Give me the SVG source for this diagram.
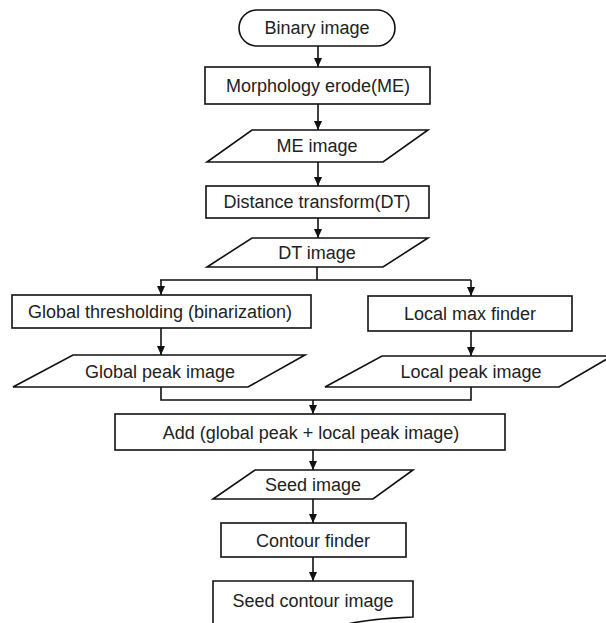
<svg xmlns="http://www.w3.org/2000/svg" width="606" height="623" viewBox="0 0 606 623">
<defs>
<marker id="ah" markerWidth="9" markerHeight="8" refX="9" refY="4" orient="auto" markerUnits="userSpaceOnUse" viewBox="0 0 9 8">
<path d="M0,0 L9,4 L0,8 Z" fill="#111"/>
</marker>
<style>
.s{fill:#fff;stroke:#111;stroke-width:1.6}
.t{font-family:"Liberation Sans",Arial,sans-serif;font-size:18px;fill:#222;text-anchor:middle}
.c{fill:none;stroke:#111;stroke-width:1.6}
</style>
</defs>
<rect width="606" height="623" fill="#fff"/>
<g id="connectors">
<path class="c" d="M318,46 V67" marker-end="url(#ah)"/>
<path class="c" d="M318,104 V130" marker-end="url(#ah)"/>
<path class="c" d="M318,162 V186" marker-end="url(#ah)"/>
<path class="c" d="M318,218 V238" marker-end="url(#ah)"/>
<path class="c" d="M317,267 V280 M160,280 H471"/>
<path class="c" d="M161,280 V295" marker-end="url(#ah)"/>
<path class="c" d="M471,280 V296" marker-end="url(#ah)"/>
<path class="c" d="M161,328 V355" marker-end="url(#ah)"/>
<path class="c" d="M471,331 V356" marker-end="url(#ah)"/>
<path class="c" d="M161,387 V400 H471 V387"/>
<path class="c" d="M313,400 V414" marker-end="url(#ah)"/>
<path class="c" d="M313,450 V470" marker-end="url(#ah)"/>
<path class="c" d="M313,499 V523" marker-end="url(#ah)"/>
<path class="c" d="M313,557 V581" marker-end="url(#ah)"/>
</g>
<g id="binary">
<rect class="s" x="239" y="10" width="156" height="36" rx="18"/>
<text class="t" x="317" y="34">Binary image</text>
</g>
<g id="morph">
<rect class="s" x="205" y="67" width="225" height="37"/>
<text class="t" x="318" y="92">Morphology erode(ME)</text>
</g>
<g id="meimage">
<polygon class="s" points="252,130 428,130 383,162 207,162"/>
<text class="t" x="317" y="152">ME image</text>
</g>
<g id="dt">
<rect class="s" x="206" y="186" width="223" height="32"/>
<text class="t" x="317" y="208">Distance transform(DT)</text>
</g>
<g id="dtimage">
<polygon class="s" points="252,238 428,238 383,267 207,267"/>
<text class="t" x="317" y="259">DT image</text>
</g>
<g id="global">
<rect class="s" x="12" y="295" width="299" height="33"/>
<text class="t" x="160" y="318">Global thresholding (binarization)</text>
</g>
<g id="localmax">
<rect class="s" x="368" y="296" width="204" height="35"/>
<text class="t" x="470" y="320">Local max finder</text>
</g>
<g id="globalpeak">
<polygon class="s" points="73,355 305,355 248,387 13,387"/>
<text class="t" x="160" y="378">Global peak image</text>
</g>
<g id="localpeak">
<polygon class="s" points="382,356 612,356 559,387 325,387"/>
<text class="t" x="471" y="378">Local peak image</text>
</g>
<g id="add">
<rect class="s" x="115" y="414" width="390" height="36"/>
<text class="t" x="311" y="439">Add (global peak + local peak image)</text>
</g>
<g id="seed">
<polygon class="s" points="255,470 413,470 373,499 213,499"/>
<text class="t" x="313" y="491">Seed image</text>
</g>
<g id="contour">
<rect class="s" x="221" y="523" width="185" height="34"/>
<text class="t" x="313" y="547">Contour finder</text>
</g>
<g id="seedcontour">
<path class="s" d="M213,626 V581 H413 V617 C390,618 360,620 340,626"/>
<text class="t" x="313" y="607">Seed contour image</text>
</g>
</svg>
